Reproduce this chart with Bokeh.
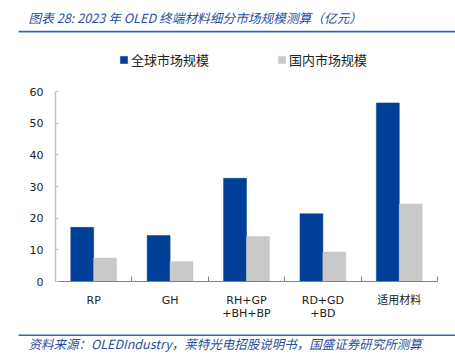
import numpy as np
from bokeh.plotting import figure
from bokeh.models import (Range1d, FixedTicker, Legend, LegendItem, ColumnDataSource,
                          Label, BoxAnnotation)
from bokeh.embed import file_html
from bokeh.resources import INLINE

categories = ["RP", "GH", "RH+GP\n+BH+BP", "RD+GD\n+BD", "适用材料"]
global_vals = [17.1, 14.5, 32.6, 21.4, 56.4]
domestic_vals = [7.4, 6.3, 14.2, 9.3, 24.5]
series_names = ["全球市场规模", "国内市场规模"]
y_ticks = [0, 10, 20, 30, 40, 50, 60]
title_text = "图表 28:  2023 年 OLED 终端材料细分市场规模测算（亿元）"
source_text = "资料来源：OLEDIndustry，莱特光电招股说明书，国盛证券研究所测算"

BLUE = "#003f98"
GRAY = "#c9c9c9"
TITLE_BLUE = "#2a4d9c"
LINE_BLUE = "#3a64aa"
W, H = 455, 362

# pixel layout of the plotting area inside the canvas
AX_LEFT, AX_RIGHT, AX_TOP, AX_BOTTOM = 55, 437, 91, 281
n = len(categories)
ymax = y_ticks[-1]
kx = (AX_RIGHT - AX_LEFT) / n
ky = (AX_BOTTOM - AX_TOP) / ymax

p = figure(width=W, height=H,
           x_range=Range1d(-AX_LEFT / kx, n + (W - AX_RIGHT) / kx),
           y_range=Range1d(-(H - AX_BOTTOM) / ky, AX_BOTTOM / ky),
           output_backend="svg", toolbar_location=None, min_border=0)
p.outline_line_color = None
p.xgrid.visible = False
p.ygrid.visible = False

centers = np.arange(n) + 0.5
src = ColumnDataSource(dict(xg=centers - 0.15, xd=centers + 0.15,
                            g=global_vals, d=domestic_vals))
rg = p.vbar(x="xg", top="g", width=0.3, source=src, fill_color=BLUE,
            line_color=BLUE, line_width=0.5)
rd = p.vbar(x="xd", top="d", width=0.3, source=src, fill_color=GRAY,
            line_color=GRAY, line_width=0.5)

xa = p.xaxis[0]
xa.fixed_location = 0
xa.bounds = (0, n)
xa.ticker = FixedTicker(ticks=list(centers), minor_ticks=list(range(n + 1)))
xa.major_label_overrides = {float(c): cat for c, cat in zip(centers, categories)}
xa.major_tick_line_color = None
xa.minor_tick_in = 5
xa.minor_tick_out = 0
xa.minor_tick_line_color = "#808080"
xa.axis_line_color = "#808080"
xa.major_label_standoff = 6
xa.major_label_text_font = "DejaVu Sans, Noto Sans CJK SC"
xa.major_label_text_font_size = "11px"
xa.major_label_text_color = "#222222"
xa.major_label_text_line_height = 1.05

ya = p.yaxis[0]
ya.fixed_location = 0
ya.bounds = (0, ymax)
ya.ticker = FixedTicker(ticks=y_ticks, minor_ticks=[])
ya.axis_line_color = "#bfbfbf"
ya.axis_line_width = 1.5
ya.major_tick_in = 3
ya.major_tick_out = 0
ya.major_tick_line_color = "#bfbfbf"
ya.major_label_standoff = 12
ya.major_label_text_font = "DejaVu Sans"
ya.major_label_text_font_size = "11px"
ya.major_label_text_color = "#222222"

legend = Legend(items=[LegendItem(label=series_names[0], renderers=[rg]),
                       LegendItem(label=series_names[1], renderers=[rd])],
                orientation="horizontal", location=(119, H - 69),
                glyph_width=9, glyph_height=9, label_standoff=3, spacing=68,
                padding=0, margin=0, border_line_color=None,
                background_fill_alpha=0,
                label_text_font="Noto Sans CJK SC", label_text_font_size="13px",
                label_text_color="#222222", label_height=9)
p.add_layout(legend, "center")

p.add_layout(Label(x=28, y=H - 17, x_units="screen", y_units="screen",
                   text=title_text, text_font="Noto Sans CJK SC",
                   text_font_size="12.7px", text_font_style="italic",
                   text_color=TITLE_BLUE, text_baseline="middle"))
p.add_layout(Label(x=28, y=H - 343, x_units="screen", y_units="screen",
                   text=source_text, text_font="Noto Sans CJK SC",
                   text_font_size="12.5px", text_font_style="italic",
                   text_color=TITLE_BLUE, text_baseline="middle"))

for ytop, ybot in [(30.3, 31.9), (334.0, 335.6)]:
    p.add_layout(BoxAnnotation(left=18, right=W, top=H - ytop, bottom=H - ybot,
                               left_units="screen", right_units="screen",
                               top_units="screen", bottom_units="screen",
                               fill_color=LINE_BLUE, fill_alpha=1,
                               line_color=None))

open("out.html", "w").write(file_html(p, INLINE))
